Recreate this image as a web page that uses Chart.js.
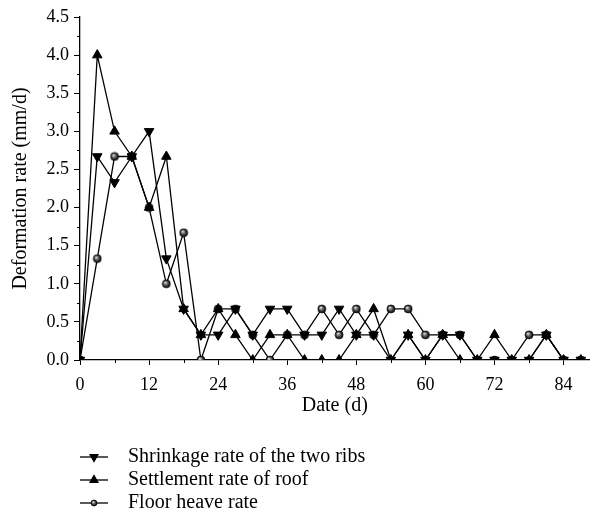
<!DOCTYPE html>
<html>
<head>
<meta charset="utf-8">
<script src="https://cdn.jsdelivr.net/npm/chart.js@4.4.7/dist/chart.umd.js"></script>
<style>
  html, body { margin: 0; padding: 0; background: #fff; }
  #wrap { width: 596px; height: 524px; position: relative; }
</style>
</head>
<body>
<div id="wrap"><canvas id="chart" width="596" height="524"></canvas></div>
<script>
// 数据 (days, mm/d)
const days = [0, 3, 6, 9, 12, 15, 18, 21, 24, 27, 30, 33, 36, 39, 42, 45, 48, 51, 54, 57, 60, 63, 66, 69, 72, 75, 78, 81, 84, 87];
const shrinkage = [0, 2.67, 2.33, 2.67, 3.0, 1.33, 0.67, 0.33, 0.33, 0.67, 0.33, 0.67, 0.67, 0.33, 0.33, 0.67, 0.33, 0.33, 0, 0.33, 0, 0.33, 0.33, 0, 0, 0, 0, 0.33, 0, 0];
const settlement = [0, 4.0, 3.0, 2.67, 2.0, 2.67, 0.67, 0.33, 0.67, 0.33, 0, 0.33, 0.33, 0, 0, 0, 0.33, 0.67, 0, 0.33, 0, 0.33, 0, 0, 0.33, 0, 0, 0.33, 0, 0];
const floorHeave = [0, 1.33, 2.67, 2.67, 2.0, 1.0, 1.67, 0, 0.67, 0.67, 0.33, 0, 0.33, 0.33, 0.67, 0.33, 0.67, 0.33, 0.67, 0.67, 0.33, 0.33, 0.33, 0, 0, 0, 0.33, 0.33, 0, 0];
const seriesNames = ["Shrinkage rate of the two ribs", "Settlement rate of roof", "Floor heave rate"];
const xTickValues = [0, 6, 12, 18, 24, 30, 36, 42, 48, 54, 60, 66, 72, 78, 84];
const yTickValues = [0, 0.25, 0.5, 0.75, 1, 1.25, 1.5, 1.75, 2, 2.25, 2.5, 2.75, 3, 3.25, 3.5, 3.75, 4, 4.25, 4.5];

const FONT = "'Liberation Serif', 'DejaVu Serif', serif";

const isMajorX = (v) => v % 12 === 0;
const isMajorY = (v) => Math.abs(v * 2 - Math.round(v * 2)) < 1e-6;

// 球形圆点
function makeBall(r) {
  const c = document.createElement("canvas");
  const s = Math.ceil(r * 2 + 2);
  c.width = s; c.height = s;
  const g = c.getContext("2d");
  const cx = s / 2, cy = s / 2;
  const grad = g.createRadialGradient(cx - r * 0.3, cy - r * 0.35, 0.2, cx, cy, r);
  grad.addColorStop(0, "#f4f4f4");
  grad.addColorStop(0.3, "#8a8a8a");
  grad.addColorStop(0.75, "#2a2a2a");
  grad.addColorStop(1, "#000");
  g.beginPath();
  g.arc(cx, cy, r, 0, Math.PI * 2);
  g.fillStyle = grad;
  g.fill();
  g.lineWidth = 0.7;
  g.strokeStyle = "#000";
  g.stroke();
  return c;
}
const ball = makeBall(4);
const smallBall = makeBall(3);

const toPoints = (arr) => arr.map((v, i) => ({ x: days[i], y: v }));

// index 0 画在最上层
const datasets = [
  { label: seriesNames[0], data: toPoints(shrinkage), pointStyle: "triangle", pointRadius: 5.5, pointRotation: 180 },
  { label: seriesNames[1], data: toPoints(settlement), pointStyle: "triangle", pointRadius: 5.5, pointRotation: 0 },
  { label: seriesNames[2], data: toPoints(floorHeave), pointStyle: ball, pointRadius: 4 },
].map((d) => Object.assign({
  borderColor: "#000",
  backgroundColor: "#000",
  pointBackgroundColor: "#000",
  pointBorderColor: "#000",
  pointBorderWidth: 1,
  borderWidth: 1.3,
  tension: 0,
  fill: false,
}, d));

// 次刻度 + 图例
const extrasPlugin = {
  id: "extras",
  afterDraw(chart) {
    const ctx = chart.ctx;
    const xs = chart.scales.x, ys = chart.scales.y;
    ctx.save();
    ctx.strokeStyle = "#000";
    ctx.lineWidth = 1;
    ctx.beginPath();
    xTickValues.filter((v) => !isMajorX(v)).forEach((v) => {
      const px = Math.round(xs.getPixelForValue(v)) + 0.5;
      ctx.moveTo(px, ys.bottom);
      ctx.lineTo(px, ys.bottom + 3);
    });
    yTickValues.filter((v) => !isMajorY(v)).forEach((v) => {
      const py = Math.round(ys.getPixelForValue(v)) + 0.5;
      ctx.moveTo(xs.left, py);
      ctx.lineTo(xs.left - 3, py);
    });
    ctx.stroke();

    const rowY = [457, 480, 503];
    chart.data.datasets.forEach((ds, row) => {
      const y = rowY[row];
      ctx.strokeStyle = "#000";
      ctx.lineWidth = 1.3;
      ctx.beginPath();
      ctx.moveTo(80, y);
      ctx.lineTo(108, y);
      ctx.stroke();
      const isBall = ds.pointStyle === ball;
      Chart.helpers.drawPoint(ctx, {
        pointStyle: isBall ? smallBall : ds.pointStyle,
        rotation: ds.pointRotation || 0,
        radius: isBall ? 3 : 4.5,
        borderWidth: 1,
      }, 94, y);
      ctx.fillStyle = "#000";
      if (!isBall) ctx.fill();
      ctx.font = "20px " + FONT;
      ctx.textBaseline = "middle";
      ctx.textAlign = "left";
      ctx.fillText(ds.label, 128, y);
    });
    ctx.restore();
  },
};

new Chart(document.getElementById("chart"), {
  type: "line",
  data: { datasets },
  plugins: [extrasPlugin],
  options: {
    responsive: false,
    animation: false,
    layout: { padding: { top: 17, right: 6, bottom: 106, left: 0 } },
    plugins: { legend: { display: false }, tooltip: { enabled: false } },
    scales: {
      x: {
        type: "linear",
        min: 0,
        max: 88.5,
        afterBuildTicks: (s) => { s.ticks = xTickValues.map((v) => ({ value: v })); },
        afterFit: (s) => { s.height = 58; },
        border: { display: true, color: "#000", width: 1.3 },
        grid: {
          display: true, drawOnChartArea: false, tickLength: 5, lineWidth: 1,
          tickColor: (c) => (c.tick && isMajorX(c.tick.value) ? "#000" : "rgba(0,0,0,0)"),
        },
        ticks: {
          autoSkip: false,
          maxRotation: 0,
          padding: 9,
          color: "#000",
          font: { family: FONT, size: 18 },
          callback: (v) => (isMajorX(v) ? String(v) : ""),
        },
        title: {
          display: true,
          text: "Date (d)",
          color: "#000",
          font: { family: FONT, size: 20 },
          padding: { top: 0, bottom: 0 },
        },
      },
      y: {
        min: 0,
        max: 4.5,
        afterBuildTicks: (s) => { s.ticks = yTickValues.map((v) => ({ value: v })); },
        afterFit: (s) => { s.width = 80; },
        border: { display: true, color: "#000", width: 1.3 },
        grid: {
          display: true, drawOnChartArea: false, tickLength: 6, lineWidth: 1,
          tickColor: (c) => (c.tick && isMajorY(c.tick.value) ? "#000" : "rgba(0,0,0,0)"),
        },
        ticks: {
          autoSkip: false,
          padding: 5,
          color: "#000",
          font: { family: FONT, size: 18 },
          callback: (v) => (isMajorY(v) ? v.toFixed(1) : ""),
        },
        title: {
          display: true,
          text: "Deformation rate (mm/d)",
          color: "#000",
          font: { family: FONT, size: 20 },
          padding: { top: 9, bottom: 0 },
        },
      },
    },
  },
});
</script>
</body>
</html>
